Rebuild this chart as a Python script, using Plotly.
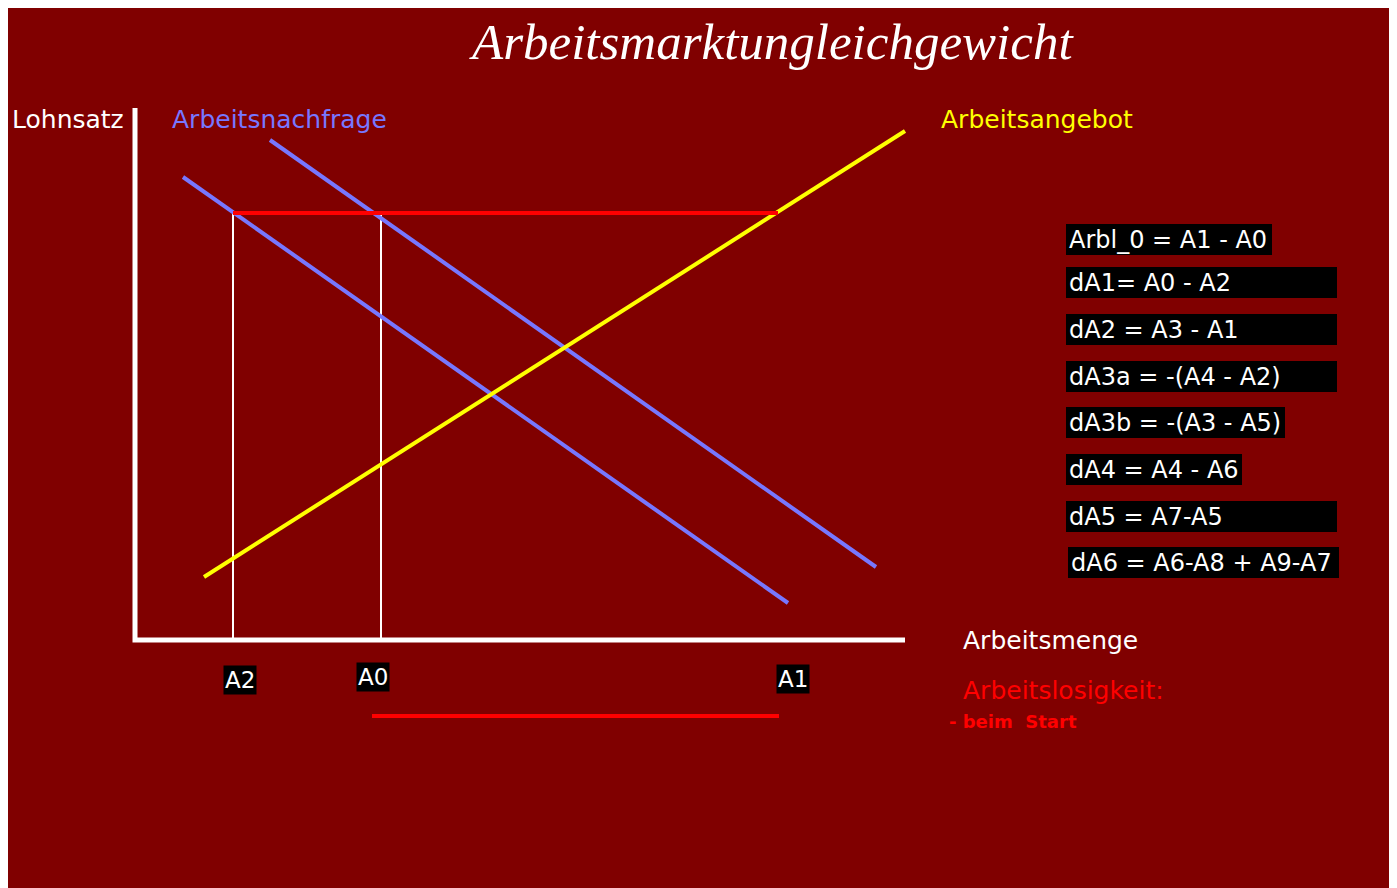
import plotly.graph_objects as go

# ---- data (quantity = Arbeitsmenge, wage = Lohnsatz) ----
axis_q = [0, 0, 770]
axis_w = [532, 0, 0]

supply_q = [69, 770]
supply_w = [63, 509]

demand1_q = [48, 653]
demand1_w = [463, 37]

demand2_q = [135, 741]
demand2_w = [500, 73]

wage0 = 427
tick_names = ["A2", "A0", "A1"]
tick_q = [98, 246, 643]

unemp_q = [237, 644]
unemp_w = -76

formulas = ["Arbl_0 = A1 - A0", "dA1= A0 - A2", "dA2 = A3 - A1", "dA3a = -(A4 - A2)",
            "dA3b = -(A3 - A5)", "dA4 = A4 - A6", "dA5 = A7-A5", "dA6 = A6-A8 + A9-A7"]

BG = "#800000"
BLUE = "#7777ff"
YEL = "#ffff00"
RED = "#ff0000"
FONT = "DejaVu Sans"

fig = go.Figure()

def line(x, y, color, width):
    fig.add_trace(go.Scatter(x=x, y=y, mode="lines", line=dict(color=color, width=width),
                             hoverinfo="skip", showlegend=False))

# axes
line(axis_q, axis_w, "white", 5)
# vertical guides
line([tick_q[0], tick_q[0]], [0, wage0], "white", 2)
line([tick_q[1], tick_q[1]], [0, wage0], "white", 2)
# curves
line(demand1_q, demand1_w, BLUE, 4)
line(demand2_q, demand2_w, BLUE, 4)
line(supply_q, supply_w, YEL, 4)
# minimum wage line
line([tick_q[0], tick_q[2]], [wage0, wage0], RED, 4)
# unemployment bar
line(unemp_q, [unemp_w, unemp_w], RED, 4)

ann = []
def text(x, y, s, color="white", size=24, xanchor="left", bg=None, family=FONT, **kw):
    d = dict(x=x, y=y, text=s, showarrow=False, xanchor=xanchor, yanchor="middle",
             font=dict(family=family, size=size, color=color, **kw))
    if bg:
        d["bgcolor"] = bg
        d["borderpad"] = 1
    ann.append(d)

text(636, 598, "Arbeitsmarktungleichgewicht", size=51, xanchor="center",
     family="Liberation Serif", style="italic")
text(-125, 521, "Lohnsatz", size=25)
text(35, 521, "Arbeitsnachfrage", color=BLUE, size=25)
text(804, 521, "Arbeitsangebot", color=YEL, size=25)
text(826, 0, "Arbeitsmenge", size=25)
text(826, -50, "Arbeitslosigkeit:", color=RED, size=25)
text(812, -81, "- beim  Start", color=RED, size=18, weight="bold")

label_offsets = [[105, -40], [238, -37], [658, -39]]
for name, (lx, ly) in zip(tick_names, label_offsets):
    text(lx, ly, name, size=23, xanchor="center", bg="black")

# formula boxes
box_right = [1272, 1337, 1337, 1337, 1285, 1242, 1337, 1339]
box_top = [224, 267, 314, 361, 407, 454, 501, 547]
shapes = []
for i, f in enumerate(formulas):
    x0 = (1068 if i == 7 else 1066) - 135
    x1 = box_right[i] - 135
    y0 = 640 - box_top[i]
    y1 = y0 - 31
    shapes.append(dict(type="rect", x0=x0, x1=x1, y0=y1, y1=y0, fillcolor="black",
                       line=dict(width=0), layer="below"))
    text(x0 + 1, (y0 + y1) / 2, f, size=24)

fig.update_layout(
    width=1397, height=888,
    margin=dict(l=0, r=0, t=0, b=0),
    paper_bgcolor="white", plot_bgcolor=BG,
    xaxis=dict(range=[-127, 1270], visible=False, fixedrange=True),
    yaxis=dict(range=[-256, 632], visible=False, fixedrange=True),
    annotations=ann, shapes=shapes, showlegend=False,
)

fig.write_html("out.html")
